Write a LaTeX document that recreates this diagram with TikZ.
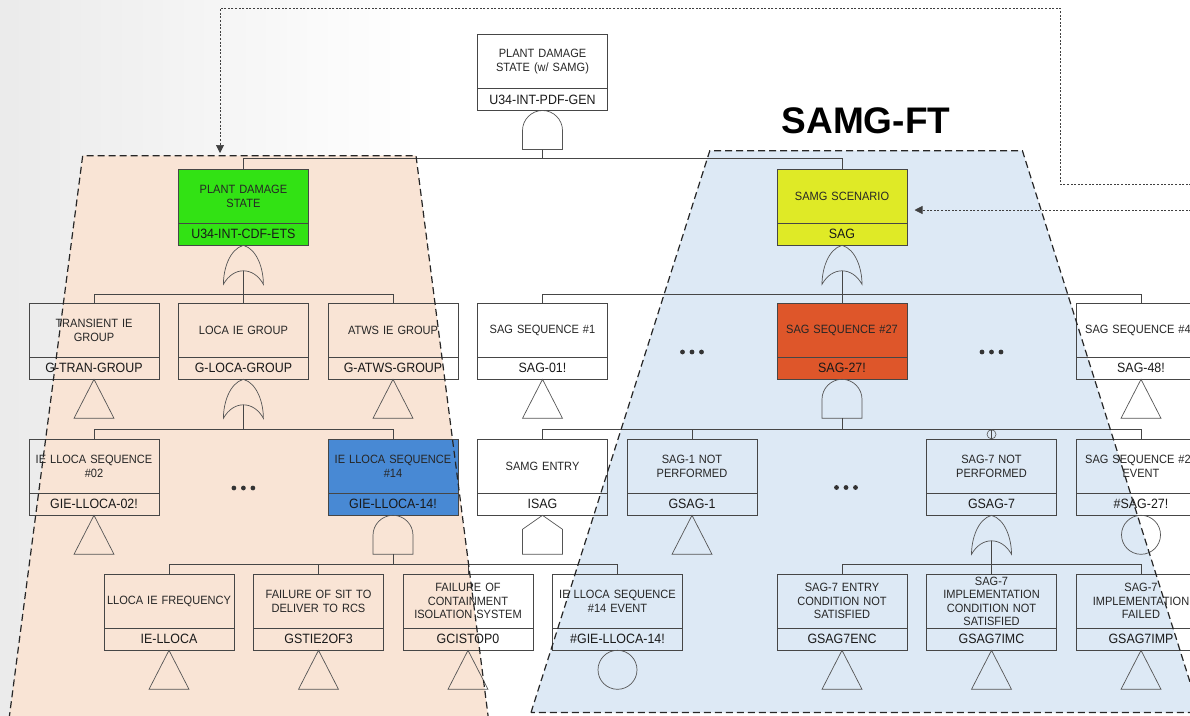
\documentclass[tikz,border=0pt]{standalone}
\usepackage{fontspec}
\setmainfont{Liberation Sans}
\newfontfamily\gatefont[FakeStretch=0.92]{Liberation Sans}
\newfontfamily\titlefont{Liberation Sans}
\usetikzlibrary{positioning,arrows.meta}

\definecolor{iefill}{RGB}{249,228,213}
\definecolor{sagfill}{RGB}{221,233,245}
\definecolor{cdfgreen}{RGB}{50,226,20}
\definecolor{scyellow}{RGB}{223,234,38}
\definecolor{seqred}{RGB}{222,86,42}
\definecolor{seqblue}{RGB}{72,137,212}
\definecolor{boxline}{RGB}{70,70,70}
\definecolor{gatecol}{RGB}{85,85,85}

\newcommand{\ftevent}[6]{%
  \node[evtext,fill=#4] (#1) at (#2,#3) {#5};
  \node[evid,fill=#4,below=0pt of #1] (#1-id) {#6};
}

\begin{document}
\begin{tikzpicture}[x=1pt, y=-1pt,
    evtext/.style={draw=boxline, line width=0.9pt, outer sep=0pt, minimum width=130pt, minimum height=54pt,
      inner sep=1pt, text width=128pt, align=center, anchor=north, text=black!85,
      font=\gatefont\fontsize{12}{13.5}\selectfont},
    evid/.style={draw=boxline, line width=0.9pt, outer sep=0pt, minimum width=130pt, minimum height=22pt,
      inner sep=1pt, text width=128pt, align=center, text=black!90,
      font=\gatefont\fontsize{13.5}{15}\selectfont},
    gateline/.style={draw=gatecol, line width=0.7pt},
    wire/.style={draw=boxline, line width=0.9pt},
    grpline/.style={draw=black!85, line width=1.2pt, dash pattern=on 7pt off 4pt},
    feedback/.style={draw=black!75, line width=0.7pt, dash pattern=on 2pt off 1.6pt,
      -{Triangle[length=8pt,width=8pt]}},
    notmark/.style={circle, draw=gatecol, line width=0.6pt, minimum size=9pt, inner sep=0pt},
    title/.style={anchor=base, font=\titlefont\bfseries\fontsize{37}{40}\selectfont},
    andgate/.pic={
      \draw[gateline] (-20,39) -- (-20,20) .. controls (-20,9) and (-11,0) .. (0,0)
        .. controls (11,0) and (20,9) .. (20,20) -- (20,39) -- cycle;
      \coordinate (-out) at (0,39);},
    orgate/.pic={
      \draw[gateline] (0,0) .. controls (-14,4) and (-20,24) .. (-20,39)
        .. controls (-10,21) and (10,21) .. (20,39)
        .. controls (20,24) and (14,4) .. (0,0) -- cycle;
      \coordinate (-out) at (0,25.5);},
    transfer/.pic={\draw[gateline] (0,0) -- (-20,39) -- (20,39) -- cycle;},
    house/.pic={\draw[gateline] (0,0) -- (-20,14) -- (-20,39) -- (20,39) -- (20,14) -- cycle;},
    basic/.pic={\draw[gateline] (0,19.5) circle[radius=19.5pt];},
    ellipsis/.pic={\foreach \d in {-9.5,0,9.5} \fill[black!80] (\d,0) circle[radius=2.4pt];}
  ]
\useasboundingbox (0,0) rectangle (1190,715);
\shade[left color=black!8, right color=white] (0,0) rectangle (420,715);
\fill[iefill] (7.6,730) -- (82.7,155.7) -- (416,155.7) -- (489.9,730) -- cycle;
\fill[sagfill] (531,712.5) -- (709.8,150.7) -- (1022.4,150.7) -- (1199.6,712.5) -- cycle;

\ftevent{pdsamg}{542.5}{34.5}{none}{PLANT DAMAGE\\STATE (w/ SAMG)}{U34-INT-PDF-GEN}
\ftevent{pdcdf}{243.4}{169.3}{cdfgreen}{PLANT DAMAGE\\STATE}{U34-INT-CDF-ETS}
\ftevent{samgsc}{842}{169.3}{scyellow}{SAMG SCENARIO}{SAG}

\ftevent{trangrp}{94}{303.3}{none}{TRANSIENT IE\\GROUP}{G-TRAN-GROUP}
\ftevent{locagrp}{243.4}{303.3}{none}{LOCA IE GROUP}{G-LOCA-GROUP}
\ftevent{atwsgrp}{393}{303.3}{none}{ATWS IE GROUP}{G-ATWS-GROUP}
\ftevent{sag01}{542.5}{303.3}{none}{SAG SEQUENCE \#1}{SAG-01!}
\ftevent{sag27}{842}{303.3}{seqred}{SAG SEQUENCE \#27}{SAG-27!}
\ftevent{sag48}{1141}{303.3}{none}{SAG SEQUENCE \#48}{SAG-48!}

\ftevent{lloca02}{94}{439.3}{none}{IE LLOCA SEQUENCE\\\#02}{GIE-LLOCA-02!}
\ftevent{lloca14}{393}{439.3}{seqblue}{IE LLOCA SEQUENCE\\\#14}{GIE-LLOCA-14!}
\ftevent{isag}{542.5}{439.3}{none}{SAMG ENTRY}{ISAG}
\ftevent{gsag1}{692}{439.3}{none}{SAG-1 NOT\\PERFORMED}{GSAG-1}
\ftevent{gsag7}{991.5}{439.3}{none}{SAG-7 NOT\\PERFORMED}{GSAG-7}
\ftevent{sag27ev}{1141}{439.3}{none}{SAG SEQUENCE \#27\\EVENT}{\#SAG-27!}

\ftevent{iellloca}{169}{574.3}{none}{LLOCA IE FREQUENCY}{IE-LLOCA}
\ftevent{gstie}{318.5}{574.3}{none}{FAILURE OF SIT TO\\DELIVER TO RCS}{GSTIE2OF3}
\ftevent{gcis}{468}{574.3}{none}{FAILURE OF\\CONTAINMENT\\ISOLATION SYSTEM}{GCISTOP0}
\ftevent{lloca14ev}{617.5}{574.3}{none}{IE LLOCA SEQUENCE\\\#14 EVENT}{\#GIE-LLOCA-14!}
\ftevent{sag7enc}{842}{574.3}{none}{SAG-7 ENTRY\\CONDITION NOT\\SATISFIED}{GSAG7ENC}
\ftevent{sag7imc}{991.5}{574.3}{none}{SAG-7\\IMPLEMENTATION\\CONDITION NOT\\SATISFIED}{GSAG7IMC}
\ftevent{sag7imp}{1141}{574.3}{none}{SAG-7\\IMPLEMENTATION\\FAILED}{GSAG7IMP}

\pic (g-top) at (pdsamg-id.south) {andgate};
\pic (g-cdf) at (pdcdf-id.south) {orgate};
\pic (g-sc) at (samgsc-id.south) {orgate};
\pic (g-loca) at (locagrp-id.south) {orgate};
\pic (g-27) at (sag27-id.south) {andgate};
\pic (g-14) at (lloca14-id.south) {andgate};
\pic (g-7) at (gsag7-id.south) {orgate};
\foreach \ev in {trangrp,atwsgrp,sag01,sag48,lloca02,gsag1,iellloca,gstie,gcis,sag7enc,sag7imc,sag7imp}
  \pic at (\ev-id.south) {transfer};
\pic at (isag-id.south) {house};
\pic at (sag27ev-id.south) {basic};
\pic at (lloca14ev-id.south) {basic};

\foreach \ch in {pdcdf,samgsc}
  \draw[wire] (g-top-out) |- ([yshift=10.6pt]\ch.north) -- (\ch.north);
\foreach \ch in {trangrp,locagrp,atwsgrp}
  \draw[wire] (g-cdf-out) |- ([yshift=9pt]\ch.north) -- (\ch.north);
\foreach \ch in {sag01,sag27,sag48}
  \draw[wire] (g-sc-out) |- ([yshift=9pt]\ch.north) -- (\ch.north);
\foreach \ch in {lloca02,lloca14}
  \draw[wire] (g-loca-out) |- ([yshift=10pt]\ch.north) -- (\ch.north);
\foreach \ch in {isag,gsag1,gsag7,sag27ev}
  \draw[wire] (g-27-out) |- ([yshift=10pt]\ch.north) -- (\ch.north);
\foreach \ch in {iellloca,gstie,gcis,lloca14ev}
  \draw[wire] (g-14-out) |- ([yshift=10pt]\ch.north) -- (\ch.north);
\foreach \ch in {sag7enc,sag7imc,sag7imp}
  \draw[wire] (g-7-out) |- ([yshift=10pt]\ch.north) -- (\ch.north);
\node[notmark] (not7) at ([yshift=5pt]gsag7.north) {};

\pic (dots-e) at (692,352) {ellipsis};
\pic (dots-g) at (991.5,352) {ellipsis};
\pic (dots-b) at (243.4,488) {ellipsis};
\pic (dots-f) at (846,487.5) {ellipsis};

\draw[grpline] (7.6,730) -- (82.7,155.7) -- (416,155.7) -- (489.9,730);
\draw[grpline] (531,712.5) -- (709.8,150.7) -- (1022.4,150.7) -- (1199.6,712.5) -- cycle;

\coordinate (fbA) at (1195,184.3);
\coordinate (fbB) at (1060.3,8.3);
\coordinate (fbC) at (220,153);
\coordinate (fbD) at (1195,210);
\coordinate (fbE) at (914.5,210);
\draw[feedback] (fbA) -| (fbB) -| (fbC);
\draw[feedback] (fbD) -- (fbE);

\node[title] (samgft) at (866,133.3) {SAMG-FT};
\end{tikzpicture}
\end{document}
